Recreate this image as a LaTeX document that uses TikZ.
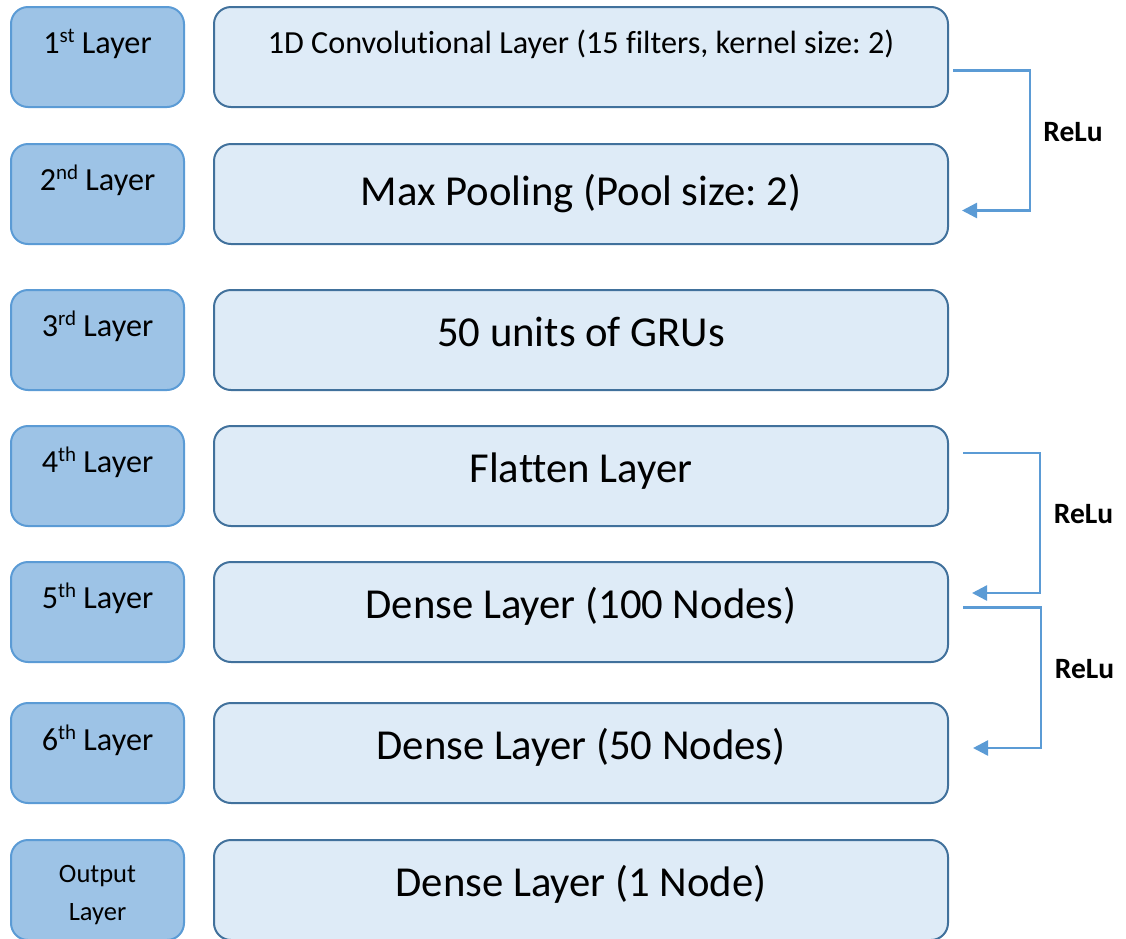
\documentclass[tikz,border=0pt]{standalone}
\usepackage{fontspec}
\setmainfont{Carlito}[Ligatures=NoCommon]
\usetikzlibrary{arrows.meta}
\frenchspacing

\definecolor{tagfill}{HTML}{9DC3E6}
\definecolor{tagline}{HTML}{5B9BD5}
\definecolor{layfill}{HTML}{DEEBF7}
\definecolor{layline}{HTML}{41719C}
\definecolor{flowline}{HTML}{5B9BD5}

% raised ordinal suffix (1st, 2nd, ...)
\newcommand{\ordsup}[1]{\raisebox{10.5pt}{\fontsize{21}{21}\selectfont #1}}

\tikzset{
  tagbox/.style={draw=tagline, fill=tagfill, line width=2pt, rounded corners=17pt,
    minimum width=173pt, minimum height=100pt, inner sep=0pt},
  laybox/.style={draw=layline, fill=layfill, line width=2pt, rounded corners=17pt,
    minimum width=734pt, minimum height=100pt, inner sep=0pt},
  smalltext/.style={anchor=base, inner sep=0pt, font=\fontsize{32.2}{38}\selectfont},
  bigtext/.style={anchor=base, inner sep=0pt, font=\fontsize{42.7}{50}\selectfont},
  tinytext/.style={anchor=base, inner sep=0pt, font=\fontsize{26.5}{30}\selectfont},
  actlabel/.style={anchor=base, inner sep=0pt, font=\fontsize{29.5}{34}\selectfont\bfseries},
  flow/.style={draw=flowline, line width=2.5pt, -{Triangle[length=15pt,width=15pt]}},
}

\begin{document}
\begin{tikzpicture}[x=1pt, y=-1pt]
\useasboundingbox (0,0) rectangle (1126,938);

% layer tags (left column) and layer boxes (right column)
\foreach \n/\top in {1/7, 2/144, 3/290, 4/426, 5/562, 6/703, 7/840} {
  \node[tagbox] (tag\n) at (97.5, \top+50) {};
  \node[laybox] (lay\n) at (581, \top+50) {};
}

% tag texts
\node[smalltext] (tt1) at (97.5, 53)  {1\ordsup{st} Layer};
\node[smalltext] (tt2) at (97.5, 190) {2\ordsup{nd} Layer};
\node[smalltext] (tt3) at (97.5, 336) {3\ordsup{rd} Layer};
\node[smalltext] (tt4) at (97.5, 472) {4\ordsup{th} Layer};
\node[smalltext] (tt5) at (97.5, 608) {5\ordsup{th} Layer};
\node[smalltext] (tt6) at (97.5, 750) {6\ordsup{th} Layer};
\node[tinytext]  (tt7a) at (97.5, 882) {Output};
\node[tinytext]  (tt7b) at (97.5, 920) {Layer};

% layer descriptions
\node[smalltext] (lt1) at (581, 53)  {1D Convolutional Layer (15 filters, kernel size: 2)};
\node[bigtext]   (lt2) at (581, 205) {Max Pooling (Pool size: 2)};
\node[bigtext]   (lt3) at (581, 346) {50 units of GRUs};
\node[bigtext]   (lt4) at (581, 482) {Flatten Layer};
\node[bigtext]   (lt5) at (581, 618) {Dense Layer (100 Nodes)};
\node[bigtext]   (lt6) at (581, 759) {Dense Layer (50 Nodes)};
\node[bigtext]   (lt7) at (581, 896) {Dense Layer (1 Node)};

% activation connectors
\coordinate (a1s) at (953, 70.5);
\coordinate (a1e) at (962, 210.5);
\coordinate (a2s) at (963, 453);
\coordinate (a2e) at (972, 593);
\coordinate (a3s) at (963, 607.5);
\coordinate (a3e) at (973, 748);

\draw[flow] (a1s) -- (1030, 70.5) -- (1030, 210.5) -- (a1e);
\draw[flow] (a2s) -- (1040, 453) -- (1040, 593) -- (a2e);
\draw[flow] (a3s) -- (1041, 607.5) -- (1041, 748) -- (a3e);

\node[actlabel] (r1) at (1073, 141) {ReLu};
\node[actlabel] (r2) at (1083.5, 523) {ReLu};
\node[actlabel] (r3) at (1084.5, 678) {ReLu};
\end{tikzpicture}
\end{document}
